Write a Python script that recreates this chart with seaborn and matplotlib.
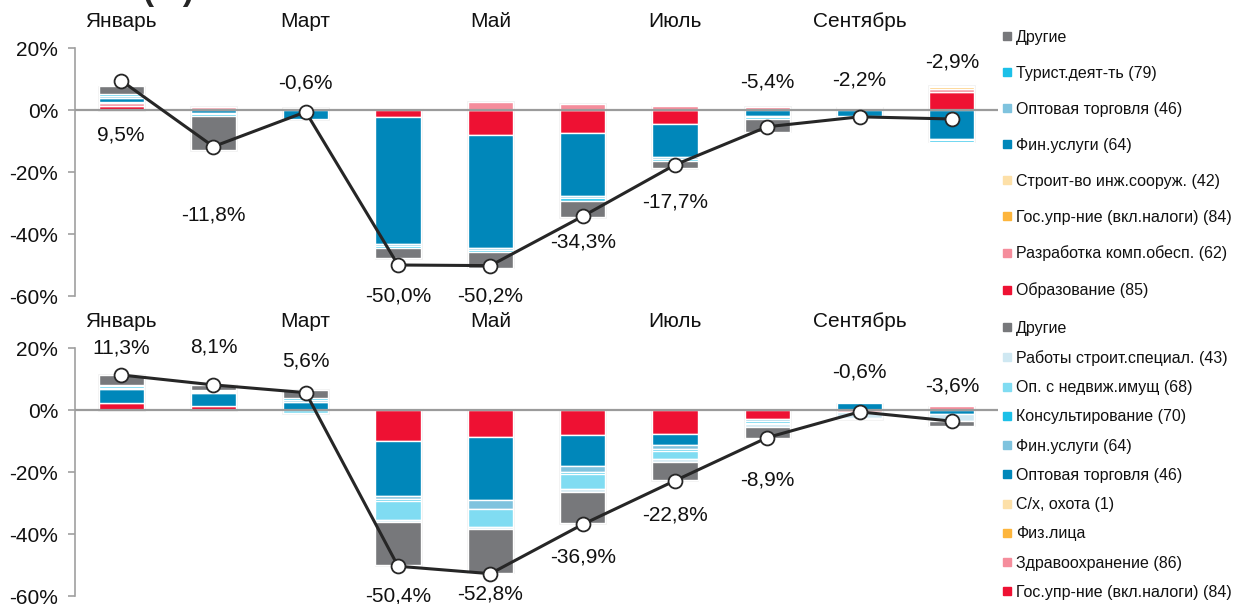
import numpy as np
import pandas as pd
import seaborn as sns
import matplotlib.pyplot as plt
from matplotlib.lines import Line2D
from matplotlib.ticker import FuncFormatter

months = ['Январь', 'Февраль', 'Март', 'Апрель', 'Май', 'Июнь', 'Июль', 'Август', 'Сентябрь', 'Октябрь']

# верхняя панель (порядок наложения от нуля)
top_cats = ['Образование (85)', 'Разработка комп.обесп. (62)', 'Гос.упр-ние (вкл.налоги) (84)',
            'Строит-во инж.сооруж. (42)', 'Фин.услуги (64)', 'Оптовая торговля (46)',
            'Турист.деят-ть (79)', 'Другие']
t_obr = [1.3, 0.3, 0.3, -2.2, -8.0, -7.5, -4.4, 0, 0, 5.9]
t_razr = [1.0, 0.7, 0.4, 0, 2.6, 2.0, 1.2, 1.0, 0.6, 1.0]
t_gos = [0, 0, 0, 0, 0, 0, 0, 0, 0, 0.5]
t_stroi = [0.3, 0, 0, 0, 0, 0, 0, 0, 0.3, 0.4]
t_fin = [1.3, -1.0, -3.0, -41.0, -36.6, -20.4, -10.8, -2.0, -2.0, -9.2]
t_opt = [0.6, -0.4, 0, -0.6, -0.5, -0.6, -0.7, -0.4, 0, -0.4]
t_tur = [0.6, -0.4, 0, -0.8, -0.8, -0.8, -0.6, -0.4, 0, -0.6]
t_dr = [2.6, -11.1, 0, -3.2, -5.0, -5.3, -2.3, -4.2, 0, 0]
top_line = [9.5, -11.8, -0.6, -50.0, -50.2, -34.3, -17.7, -5.4, -2.2, -2.9]

# нижняя панель
bot_cats = ['Гос.упр-ние (вкл.налоги) (84)', 'Здравоохранение (86)', 'Физ.лица', 'С/х, охота (1)',
            'Оптовая торговля (46)', 'Фин.услуги (64)', 'Консультирование (70)',
            'Оп. с недвиж.имущ (68)', 'Работы строит.специал. (43)', 'Другие']
b_gos = [2.2, 1.3, 0, -10.0, -8.8, -8.0, -7.6, -3.0, 0, 0]
b_zdrav = [0, 0, 0, 0, 0, 0, 0, 0, -0.5, 1.2]
b_fiz = [0, 0, 0, 0, 0, 0, 0, 0, 0, 0]
b_sh = [0, 0, 0, 0, 0, 0, 0, 0, 0, 0]
b_opt = [4.5, 4.1, 2.7, -17.8, -20.2, -10.0, -3.7, 0, 2.1, -1.3]
b_fin = [0.5, 0.4, 0.5, -0.8, -3.0, -2.0, -1.2, -0.6, 0, 0]
b_kons = [0.5, 0.3, 0.8, -0.8, 0, -0.7, -0.8, -0.6, 0, 0]
b_nedv = [0.3, 0.5, -1.0, -6.0, -5.6, -4.8, -2.4, -0.4, 0, 0]
b_rab = [0, 0, 0, -0.8, -0.8, -0.8, -1.0, -0.8, -2.0, -2.3]
b_dr = [3.3, 1.5, 2.5, -13.8, -14.1, -10.2, -5.9, -3.5, -0.5, -1.5]
bot_line = [11.3, 8.1, 5.6, -50.4, -52.8, -36.9, -22.8, -8.9, -0.6, -3.6]

top_colors = ['#ee1133', '#f58d9c', '#fdb53c', '#fde0a8', '#0087ba', '#7fc3de', '#1cc0e8', '#77787b']
bot_colors = ['#ee1133', '#f58d9c', '#fdb53c', '#fde0a8', '#0087ba', '#7fc3de', '#1cc0e8',
              '#80dcf2', '#cfe8f2', '#77787b']

# смещения подписей линии (в п.п. от точки)
top_lbl_off = [-17.6, -22.1, 9.3, -10.0, -9.8, -8.3, -12.0, 14.4, 11.9, 18.4]
bot_lbl_off = [8.7, 12.2, 10.2, -9.6, -6.6, -10.5, -11.1, -13.7, 12.9, 11.3]

sns.set_theme(style='white')
plt.rcParams['font.family'] = ['Liberation Sans', 'DejaVu Sans']
plt.rcParams['axes.unicode_minus'] = False

fig = plt.figure(figsize=(12.41, 6.04), dpi=100)
W, H = 1241, 604
ax1 = fig.add_axes([75 / W, 1 - 296 / H, 923 / W, 248 / H])
ax2 = fig.add_axes([75 / W, 1 - 596 / H, 923 / W, 248 / H])


def draw(ax, cats, series, colors, line, lbl_off):
    x = np.arange(len(months))
    df = pd.DataFrame(dict(zip(cats, series)))
    hi = df.clip(lower=0).sum(axis=1).values
    lo = df.clip(upper=0).sum(axis=1).values
    ax.bar(x, hi - lo + 1.0, bottom=lo - 0.5, width=0.53, color='#eeeeee', zorder=1)
    pos = np.zeros(len(x))
    neg = np.zeros(len(x))
    for c, col in zip(cats, colors):
        v = df[c].values
        m = v != 0
        b = np.where(v >= 0, pos, neg)
        ax.bar(x[m], v[m], bottom=b[m], width=0.49, color=col, edgecolor='white', linewidth=1.0, zorder=2)
        pos += np.clip(v, 0, None)
        neg += np.clip(v, None, 0)
    ax.axhline(0, color='#9b9b9b', lw=1.6, zorder=3)
    sns.lineplot(x=x, y=line, ax=ax, color='#262626', lw=2.2, marker='o', markersize=10,
                 markerfacecolor='white', markeredgecolor='#262626', markeredgewidth=1.3, zorder=5)
    for xi, v, o in zip(x, line, lbl_off):
        ax.text(xi, v + o, f'{v:.1f}%'.replace('.', ','), ha='center', va='center', fontsize=15,
                color='#111111', zorder=6)
    ax.set_xlim(-0.5, 9.5)
    ax.set_ylim(-60, 20)
    ax.set_yticks([-60, -40, -20, 0, 20])
    ax.yaxis.set_major_formatter(FuncFormatter(lambda v, p: f'{int(v)}%'))
    ax.set_xticks([0, 2, 4, 6, 8])
    ax.set_xticklabels([months[i] for i in [0, 2, 4, 6, 8]])
    ax.tick_params(axis='x', top=False, bottom=False, labeltop=True, labelbottom=False,
                   length=0, pad=12, labelsize=15, labelcolor='#111111')
    ax.tick_params(axis='y', left=True, length=5, width=1.2, color='#a0a0a0', pad=7,
                   labelsize=15, labelcolor='#111111')
    for s in ['top', 'right', 'bottom']:
        ax.spines[s].set_visible(False)
    ax.spines['left'].set_color('#a0a0a0')
    ax.spines['left'].set_linewidth(1.2)
    ax.set_xlabel('')
    ax.set_ylabel('')
    ax.set_facecolor('none')


draw(ax1, top_cats, [t_obr, t_razr, t_gos, t_stroi, t_fin, t_opt, t_tur, t_dr], top_colors, top_line, top_lbl_off)
draw(ax2, bot_cats, [b_gos, b_zdrav, b_fiz, b_sh, b_opt, b_fin, b_kons, b_nedv, b_rab, b_dr], bot_colors,
     bot_line, bot_lbl_off)


def legend(cats, colors, y, spacing):
    hs = [Line2D([], [], marker='s', ls='', color=c, markersize=6) for c in colors[::-1]]
    fig.legend(hs, cats[::-1], loc='upper left', bbox_to_anchor=(1003 / W, 1 - y / H), frameon=False,
               fontsize=11.5, labelspacing=spacing, handlelength=0.5, handletextpad=0.3,
               borderpad=0, borderaxespad=0, labelcolor='#111111')


legend(top_cats, top_colors, 30, 1.31)
legend(bot_cats, bot_colors, 321, 0.89)

fig.text(142 / W, 1.0, '(%)', fontsize=24, fontweight='bold', ha='left', va='baseline')

fig.savefig('out.png', dpi=100)
